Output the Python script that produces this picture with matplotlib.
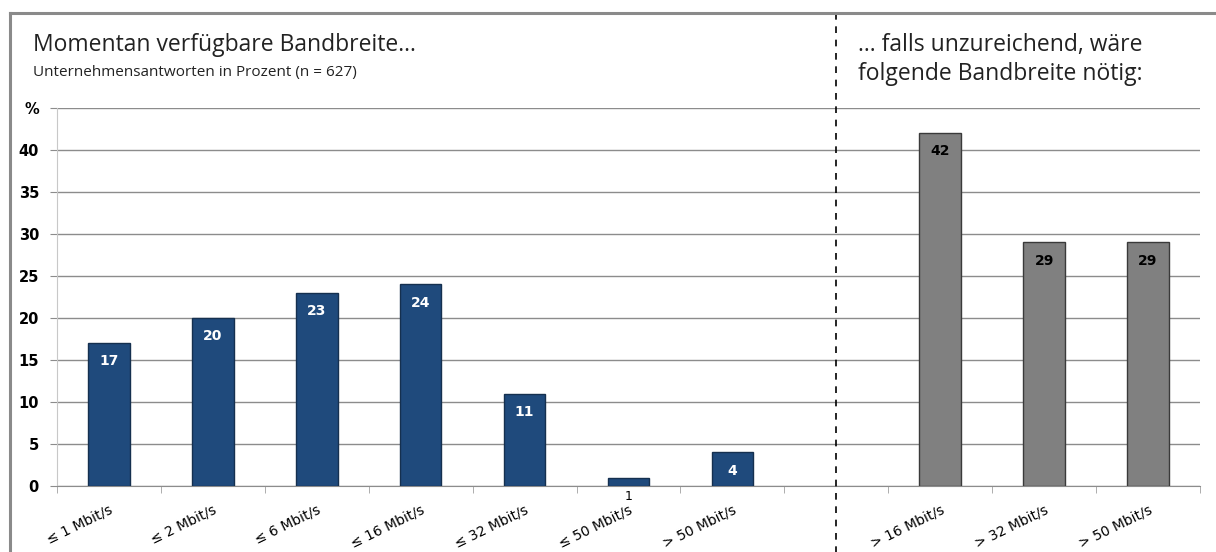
import numpy as np
import matplotlib
matplotlib.use("Agg")
import matplotlib.pyplot as plt
from matplotlib.lines import Line2D
from matplotlib.transforms import offset_copy

# ── Data ──────────────────────────────────────────────────────────────────────
current_labels = ["≤ 1 Mbit/s", "≤ 2 Mbit/s", "≤ 6 Mbit/s", "≤ 16 Mbit/s",
                  "≤ 32 Mbit/s", "≤ 50 Mbit/s", "> 50 Mbit/s"]
current_values = [17, 20, 23, 24, 11, 1, 4]
needed_labels = ["> 16 Mbit/s", "> 32 Mbit/s", "> 50 Mbit/s"]
needed_values = [42, 29, 29]
y_ticks = [0, 5, 10, 15, 20, 25, 30, 35, 40, 45]
y_ticklabels = ["0", "5", "10", "15", "20", "25", "30", "35", "40", "%"]

NAVY = "#1f4a7c"
GREY = "#808080"
W, H = 1216, 552

plt.rcParams["font.family"] = ["Open Sans", "DejaVu Sans"]

fig = plt.figure(figsize=(W / 100, H / 100), dpi=100)
ax = fig.add_axes([57 / W, 66 / H, (1200 - 57) / W, 378 / H])

x_cur = np.arange(len(current_values))
x_need = np.arange(len(needed_values)) + len(current_values) + 1
ax.bar(x_cur, current_values, width=0.4, color=NAVY, edgecolor="#15304f",
       linewidth=1, zorder=3)
ax.bar(x_need, needed_values, width=0.4, color=GREY, edgecolor="#3a3a3a",
       linewidth=1, zorder=3)

# value labels
for x, v in zip(x_cur, current_values):
    if v >= 3:
        ax.text(x, v, str(v), ha="center", va="top", color="white",
                fontsize=10, fontweight="bold", family="DejaVu Sans", zorder=4,
                transform=offset_copy(ax.transData, fig=fig, y=-8, units="points"))
    else:
        ax.text(x, 0, str(v), ha="center", va="top", color="black",
                fontsize=9, family="DejaVu Sans", zorder=4,
                transform=offset_copy(ax.transData, fig=fig, y=-3, units="points"))
for x, v in zip(x_need, needed_values):
    ax.text(x, v, str(v), ha="center", va="top", color="black",
            fontsize=10, fontweight="bold", family="DejaVu Sans", zorder=4,
            transform=offset_copy(ax.transData, fig=fig, y=-8, units="points"))

ax.set_xlim(-0.5, 10.5)
ax.set_ylim(0, 45)
ax.set_yticks(y_ticks)
ax.set_yticklabels(y_ticklabels, fontsize=10.5, fontweight="bold",
                   family="DejaVu Sans")
ax.tick_params(axis="y", length=5, color="#8c8c8c", pad=8)
ax.yaxis.grid(True, color="#8c8c8c", linewidth=1)
ax.set_axisbelow(True)

# x labels at bar centres, tick marks at category boundaries
ax.set_xticks(list(x_cur) + list(x_need))
ax.set_xticklabels(current_labels + needed_labels, rotation=26, ha="right",
                   rotation_mode="anchor", fontsize=10, family="DejaVu Sans")
ax.tick_params(axis="x", length=0, pad=12)
ax.set_xticks(np.arange(-0.5, 11, 1), minor=True)
ax.tick_params(axis="x", which="minor", length=5, color="#a0a0a0")

for s in ["top", "right"]:
    ax.spines[s].set_visible(False)
ax.spines["left"].set_color("#c8c8c8")
ax.spines["bottom"].set_color("#8c8c8c")

# dashed separator through the whole panel
ax.axvline(7, ymin=-0.18, ymax=1.25, color="black", linestyle=(0, (4, 4)),
           linewidth=1.2, clip_on=False, zorder=5)

# outer frame (top and left)
fig.add_artist(Line2D([10 / W, 1], [1 - 13 / H, 1 - 13 / H], color="#8a8a8a",
                      linewidth=2.2))
fig.add_artist(Line2D([10 / W, 10 / W], [0, 1 - 13 / H], color="#8a8a8a",
                      linewidth=2.2))

# titles
fig.text(33 / W, 1 - 51 / H, "Momentan verfügbare Bandbreite...",
         fontsize=16.5, color="#222222")
fig.text(33 / W, 1 - 76 / H, "Unternehmensantworten in Prozent (n = 627)",
         fontsize=11, color="#222222")
fig.text(858 / W, 1 - 51 / H, "... falls unzureichend, wäre",
         fontsize=16.5, color="#222222")
fig.text(858 / W, 1 - 80 / H, "folgende Bandbreite nötig:",
         fontsize=16.5, color="#222222")

fig.savefig("out.png", dpi=100)
